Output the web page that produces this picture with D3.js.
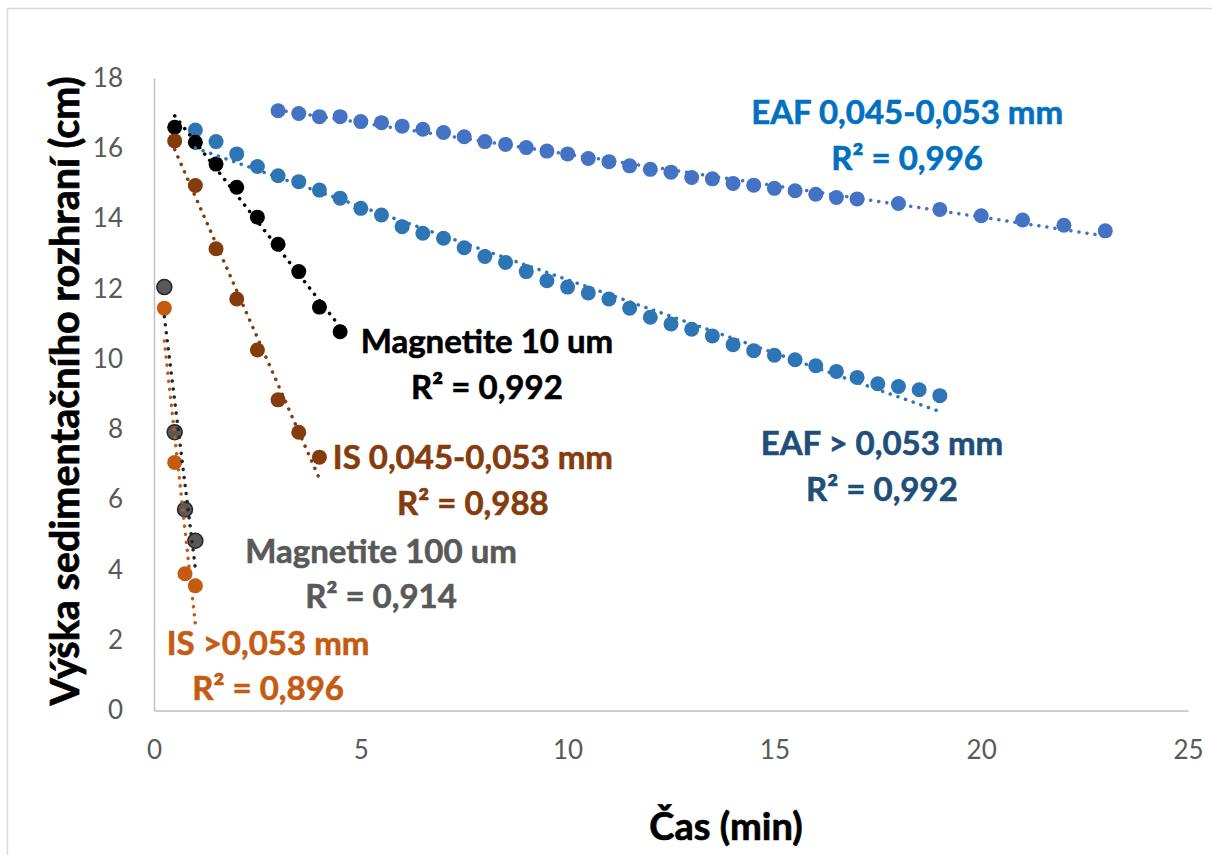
<!DOCTYPE html>
<html>
<head>
<meta charset="utf-8">
<script src="https://cdn.jsdelivr.net/npm/d3@7"></script>
<style>
  html, body { margin: 0; padding: 0; background: #fff; }
  svg { display: block; }
</style>
</head>
<body>
<svg id="chart" width="1212" height="855"></svg>
<script>
// ---------------- DATA ----------------
const xTicks = [0, 5, 10, 15, 20, 25];
const yTicks = [0, 2, 4, 6, 8, 10, 12, 14, 16, 18];

const xTitle = "Čas (min)";
const yTitle = "Výška sedimentačního rozhraní (cm)";

// EAF 0,045-0,053 mm
const eaf045X = [3, 3.5, 4, 4.5, 5, 5.5, 6, 6.5, 7, 7.5, 8, 8.5, 9, 9.5, 10, 10.5, 11, 11.5, 12, 12.5, 13, 13.5, 14, 14.5, 15, 15.5, 16, 16.5, 17, 18, 19, 20, 21, 22, 23];
const eaf045Y = [17.07, 16.99, 16.90, 16.90, 16.76, 16.73, 16.63, 16.54, 16.45, 16.33, 16.19, 16.11, 16.02, 15.92, 15.84, 15.71, 15.62, 15.50, 15.40, 15.32, 15.17, 15.13, 15.00, 14.95, 14.86, 14.79, 14.69, 14.60, 14.56, 14.43, 14.26, 14.08, 13.96, 13.81, 13.65];

// EAF > 0,053 mm
const eaf053X = [1, 1.5, 2, 2.5, 3, 3.5, 4, 4.5, 5, 5.5, 6, 6.5, 7, 7.5, 8, 8.5, 9, 9.5, 10, 10.5, 11, 11.5, 12, 12.5, 13, 13.5, 14, 14.5, 15, 15.5, 16, 16.5, 17, 17.5, 18, 18.5, 19];
const eaf053Y = [16.52, 16.19, 15.84, 15.48, 15.22, 15.05, 14.81, 14.58, 14.29, 14.10, 13.77, 13.58, 13.44, 13.17, 12.92, 12.75, 12.49, 12.23, 12.05, 11.88, 11.71, 11.45, 11.19, 11.00, 10.85, 10.66, 10.41, 10.24, 10.11, 9.98, 9.81, 9.65, 9.48, 9.30, 9.22, 9.13, 8.96];

// Magnetite 10 um
const mag10X = [0.5, 1, 1.5, 2, 2.5, 3, 3.5, 4, 4.5];
const mag10Y = [16.60, 16.17, 15.55, 14.89, 14.04, 13.27, 12.49, 11.48, 10.78];

// IS 0,045-0,053 mm
const is045X = [0.5, 1, 1.5, 2, 2.5, 3, 3.5, 4];
const is045Y = [16.21, 14.94, 13.14, 11.71, 10.26, 8.84, 7.92, 7.21];

// Magnetite 100 um
const mag100X = [0.25, 0.5, 0.75, 1];
const mag100Y = [12.05, 7.92, 5.72, 4.83];

// IS >0,053 mm
const is053X = [0.25, 0.5, 0.75, 1];
const is053Y = [11.45, 7.06, 3.89, 3.55];

const seriesNames = ["EAF 0,045-0,053 mm", "EAF > 0,053 mm", "Magnetite 10 um", "IS 0,045-0,053 mm", "Magnetite 100 um", "IS >0,053 mm"];
const r2Labels = ["R² = 0,996", "R² = 0,992", "R² = 0,992", "R² = 0,988", "R² = 0,914", "R² = 0,896"];

// ---------------- STYLE / LAYOUT ----------------
const seriesStyle = [
  { x: eaf045X, y: eaf045Y, fill: "#4472C4", stroke: "#4472C4", trend: "#4472C4", text: "#0070C0", lx: 18.21, ly: 16.69 },
  { x: eaf053X, y: eaf053Y, fill: "#2E75B6", stroke: "#2E75B6", trend: "#2E75B6", text: "#1F4E79", lx: 17.6, ly: 7.27 },
  { x: mag10X,  y: mag10Y,  fill: "#000000", stroke: "#000000", trend: "#000000", text: "#000000", lx: 8.05, ly: 10.17 },
  { x: is045X,  y: is045Y,  fill: "#843C0C", stroke: "#843C0C", trend: "#843C0C", text: "#843C0C", lx: 7.71, ly: 6.87 },
  { x: mag100X, y: mag100Y, fill: "#595959", stroke: "#262626", trend: "#262626", text: "#595959", lx: 5.49, ly: 4.20 },
  { x: is053X,  y: is053Y,  fill: "#C55A11", stroke: "#C55A11", trend: "#C55A11", text: "#C55A11", lx: 2.76, ly: 1.58 }
];

const svg = d3.select("#chart");
const FONT = "Lato, 'Open Sans', sans-serif";

// chart frame
svg.append("rect").attr("x", 7.5).attr("y", 8.5).attr("width", 1220).attr("height", 870)
  .attr("fill", "#fff").attr("stroke", "#d9d9d9").attr("stroke-width", 1.5);

const x = d3.scaleLinear().domain([0, 25]).range([154, 1188]);
const y = d3.scaleLinear().domain([0, 18]).range([710.5, 78]);

// axes
const xAxis = svg.append("g").attr("transform", `translate(0,${y(0)})`)
  .call(d3.axisBottom(x).tickValues(xTicks).tickSize(0).tickPadding(30).tickFormat(d3.format("d")));
xAxis.select(".domain").attr("stroke", "#bfbfbf").attr("stroke-width", 1.5);
xAxis.selectAll("text").attr("fill", "#595959").attr("font-family", FONT).attr("font-size", 26);

const yAxis = svg.append("g").attr("transform", `translate(${x(0)},0)`)
  .call(d3.axisLeft(y).tickValues(yTicks).tickSize(0).tickPadding(31).tickFormat(d3.format("d")));
yAxis.select(".domain").attr("stroke", "#bfbfbf").attr("stroke-width", 1.5);
yAxis.selectAll("text").attr("fill", "#595959").attr("font-family", FONT).attr("font-size", 26);

// axis titles
svg.append("text").attr("x", 726).attr("y", 840).attr("text-anchor", "middle")
  .attr("font-family", FONT).attr("font-weight", "bold").attr("font-size", 38).attr("fill", "#000")
  .attr("stroke", "#000").attr("stroke-width", 0.7)
  .text(xTitle);
svg.append("text").attr("transform", "translate(79,391) rotate(-90)").attr("text-anchor", "middle")
  .attr("font-family", FONT).attr("font-weight", "bold").attr("font-size", 39.5).attr("fill", "#000")
  .attr("stroke", "#000").attr("stroke-width", 0.7)
  .text(yTitle);

// linear fit for trendlines
function linFit(xs, ys) {
  const mx = d3.mean(xs), my = d3.mean(ys);
  let sxy = 0, sxx = 0;
  xs.forEach((v, i) => { sxy += (v - mx) * (ys[i] - my); sxx += (v - mx) * (v - mx); });
  const b = sxy / sxx, a = my - b * mx;
  return v => a + b * v;
}

const line = d3.line().x(d => x(d[0])).y(d => y(d[1]));

seriesStyle.forEach((s, si) => {
  const pts = s.x.map((v, i) => [v, s.y[i]]);
  const g = svg.append("g");
  g.selectAll("circle").data(pts).join("circle")
    .attr("cx", d => x(d[0])).attr("cy", d => y(d[1])).attr("r", 7.5)
    .attr("fill", s.fill).attr("stroke", s.stroke).attr("stroke-width", si === 4 ? 1.5 : 0);
});

seriesStyle.forEach((s) => {
  const f = linFit(s.x, s.y);
  const x0 = d3.min(s.x), x1 = d3.max(s.x);
  svg.append("path").attr("d", line([[x0, f(x0)], [x1, f(x1)]]))
    .attr("fill", "none").attr("stroke", s.trend).attr("stroke-width", 3.5)
    .attr("stroke-linecap", "round").attr("stroke-dasharray", "0.1 8");
});

// trendline labels
seriesStyle.forEach((s, si) => {
  const t = svg.append("text").attr("text-anchor", "middle")
    .attr("font-family", FONT).attr("font-weight", "bold").attr("font-size", 33).attr("fill", s.text)
    .attr("stroke", s.text).attr("stroke-width", 0.6);
  t.append("tspan").attr("x", x(s.lx)).attr("y", y(s.ly)).text(seriesNames[si]);
  t.append("tspan").attr("x", x(s.lx)).attr("y", y(s.ly) + 45.5).text(r2Labels[si]);
});
</script>
</body>
</html>
